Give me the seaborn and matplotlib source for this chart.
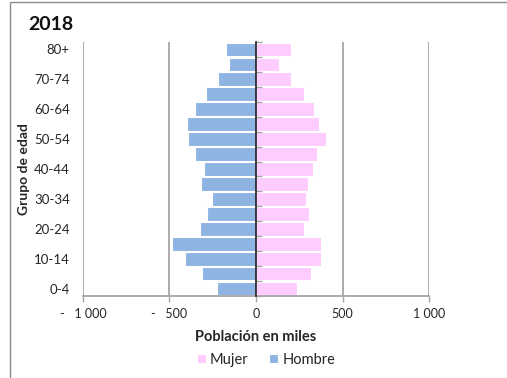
import matplotlib
matplotlib.use("Agg")
import matplotlib.pyplot as plt
import matplotlib.transforms as mtransforms
from matplotlib.patches import Rectangle
from matplotlib.ticker import FixedLocator
import numpy as np
import pandas as pd
import seaborn as sns

# Age groups, oldest first (top of the pyramid)
grupos = ["80+", "75-79", "70-74", "65-69", "60-64", "55-59", "50-54", "45-49",
          "40-44", "35-39", "30-34", "25-29", "20-24", "15-19", "10-14", "5-9", "0-4"]

# Population in thousands
hombre = [173, 158, 218, 287, 353, 397, 393, 354, 302, 316, 256, 285, 324, 484, 409, 312, 227]
mujer = [200, 133, 204, 277, 333, 364, 403, 354, 329, 302, 289, 308, 277, 374, 377, 320, 239]

x_ticks = [-1000, -500, 0, 500, 1000]
x_tick_labels = ["-   1 000", "-   500", "0", "500", "1 000"]
y_tick_labels = ["80+", "70-74", "60-64", "50-54", "40-44", "30-34", "20-24", "10-14", "0-4"]

colores = {"Mujer": "#FFCCFF", "Hombre": "#8EB4E3"}

df = pd.concat([
    pd.DataFrame({"grupo": grupos, "sexo": "Mujer", "valor": mujer}),
    pd.DataFrame({"grupo": grupos, "sexo": "Hombre", "valor": [-v for v in hombre]}),
])

sns.set_theme(style="white")
plt.rcParams["font.family"] = ["Lato", "DejaVu Sans"]

W, H = 507, 378
fig = plt.figure(figsize=(W / 100, H / 100), dpi=100)
ax = fig.add_axes([83 / W, 1 - 296 / H, (429 - 83) / W, (296 - 42) / H])

sns.barplot(data=df, y="grupo", x="valor", hue="sexo", order=grupos,
            hue_order=["Mujer", "Hombre"], palette=colores, dodge=False,
            saturation=1, width=0.92, edgecolor="white", linewidth=0.8, ax=ax)

grid_color = "#A6A6A6"
text_color = "#262626"
ax.set_xlim(-1000, 1000)
ax.set_ylim(len(grupos) - 0.5, -0.5)
ax.xaxis.set_major_locator(FixedLocator(x_ticks))
ax.set_xticklabels(x_tick_labels)
for v in x_ticks:
    if v != 0:
        ax.axvline(v, color=grid_color, lw=1.3, zorder=0)

# Shift positive labels slightly right, as in accounting number format
for lab, v in zip(ax.get_xticklabels(), x_ticks):
    if v >= 0:
        lab.set_transform(lab.get_transform() +
                          mtransforms.ScaledTranslation(5 / 100, 0, fig.dpi_scale_trans))

ax.set_yticks(range(0, len(grupos), 2))
ax.set_yticklabels(y_tick_labels)

for side in ["top", "right", "left"]:
    ax.spines[side].set_visible(False)
ax.spines["bottom"].set_color(grid_color)
ax.spines["bottom"].set_linewidth(1.3)

ax.tick_params(axis="x", bottom=True, length=4, width=1, color=grid_color,
               labelsize=9, labelcolor=text_color, pad=5)
ax.tick_params(axis="y", left=False, length=0, labelsize=9.5,
               labelcolor=text_color, pad=9.5)

# Vertical axis line through zero with ticks between categories
sec = ax.secondary_yaxis(0.5)
sec.set_zorder(5)
sec.spines["left"].set_color(grid_color)
sec.spines["left"].set_linewidth(1.3)
sec.set_yticks(np.arange(-0.5, len(grupos), 1))
sec.set_yticklabels([])
sec.tick_params(axis="y", length=4, width=1, color=grid_color, direction="out")

ax.set_xlabel("Población en miles", fontsize=10.5, fontweight="bold",
              color=text_color, labelpad=7)
ax.set_ylabel("Grupo de edad", fontsize=10, fontweight="bold", color=text_color)
ax.yaxis.set_label_coords(-(83 - 30) / (429 - 83), 0.5)

handles, labels = ax.get_legend_handles_labels()
ax.legend_.remove()
fig.legend(handles, labels, loc="center", bbox_to_anchor=(266 / W, 1 - 360 / H),
           ncol=2, frameon=False, fontsize=10.5, handlelength=0.6, handleheight=0.6,
           handletextpad=0.3, columnspacing=1.4, labelcolor=text_color)

fig.text(28 / W, 1 - 24 / H, "2018", fontsize=14, fontweight="bold",
         color="#111111", va="center", ha="left")

# Chart frame
fig.add_artist(Rectangle((10 / W, -0.1), 1.5, 1.1 - 2 / H, transform=fig.transFigure,
                         fill=False, edgecolor="#8C8C8C", lw=1))

fig.savefig("out.png", dpi=100)
